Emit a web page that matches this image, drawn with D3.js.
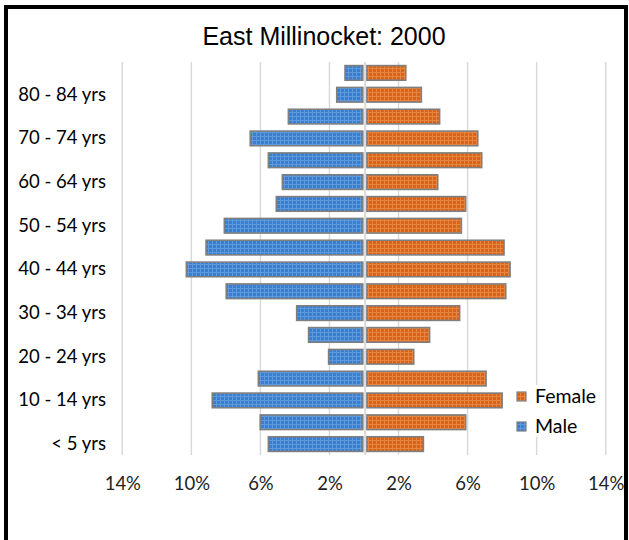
<!DOCTYPE html>
<html><head><meta charset="utf-8">
<script src="https://cdn.jsdelivr.net/npm/d3@7"></script>
<style>body{margin:0;background:#fff}svg{display:block}</style>
</head><body><div id="chart"></div>
<script>
const ageGroups = ["< 5 yrs","5 - 9 yrs","10 - 14 yrs","15 - 19 yrs","20 - 24 yrs","25 - 29 yrs","30 - 34 yrs","35 - 39 yrs","40 - 44 yrs","45 - 49 yrs","50 - 54 yrs","55 - 59 yrs","60 - 64 yrs","65 - 69 yrs","70 - 74 yrs","75 - 79 yrs","80 - 84 yrs","85+ yrs"];
const maleValues   = [5.54, 6.01, 8.79, 6.12, 2.05, 3.21, 3.90, 7.98, 10.29, 9.15, 8.09, 5.08, 4.73, 5.54, 6.59, 4.38, 1.58, 1.10];
const femaleValues = [3.44, 5.89, 8.00, 7.07, 2.88, 3.80, 5.54, 8.21, 8.46, 8.11, 5.64, 5.89, 4.27, 6.82, 6.59, 4.38, 3.32, 2.42];
const tickValues = [-14, -10, -6, -2, 2, 6, 10, 14];
const tickLabels = ["14%","10%","6%","2%","2%","6%","10%","14%"];
const labelGroups = ["< 5 yrs","10 - 14 yrs","20 - 24 yrs","30 - 34 yrs","40 - 44 yrs","50 - 54 yrs","60 - 64 yrs","70 - 74 yrs","80 - 84 yrs"];
const seriesNames = ["Female","Male"];
const title = "East Millinocket: 2000";

const W = 629, H = 540;
const svg = d3.select("#chart").append("svg").attr("width", W).attr("height", H);

// patterns
const defs = svg.append("defs");
function makePattern(id, base, light) {
  const p = defs.append("pattern").attr("id", id).attr("patternUnits", "userSpaceOnUse")
    .attr("width", 4).attr("height", 4);
  p.append("rect").attr("width", 4).attr("height", 4).attr("fill", base);
  p.append("rect").attr("x", 0).attr("y", 0).attr("width", 4).attr("height", 1).attr("fill", light);
  p.append("rect").attr("x", 0).attr("y", 0).attr("width", 1).attr("height", 4).attr("fill", light);
}
makePattern("pMale", "#3a7fcf", "#5e99dc");
makePattern("pFemale", "#d9631b", "#e6853f");

// frame
svg.append("rect").attr("x", 6).attr("y", 7).attr("width", 620).attr("height", 560)
  .attr("fill", "none").attr("stroke", "#000").attr("stroke-width", 4);

const x = d3.scaleLinear().domain([-14, 14]).range([122.3, 605.7]);
const y = d3.scaleBand().domain(ageGroups.slice().reverse()).range([62, 455]).paddingInner(0.33).paddingOuter(0.165);

// gridlines
svg.append("g").selectAll("line").data(tickValues).join("line")
  .attr("x1", d => x(d)).attr("x2", d => x(d)).attr("y1", 62).attr("y2", 455)
  .attr("stroke", "#d9d9d9").attr("stroke-width", 1.5);

// bars
const rows = ageGroups.map((g, i) => ({g, m: maleValues[i], f: femaleValues[i]}));
svg.append("g").selectAll("rect").data(rows).join("rect")
  .attr("x", d => x(-d.m)).attr("y", d => y(d.g))
  .attr("width", d => x(0) - 1.2 - x(-d.m)).attr("height", y.bandwidth())
  .attr("fill", "url(#pMale)").attr("stroke", "#7f7f7f").attr("stroke-width", 1.6);
svg.append("g").selectAll("rect").data(rows).join("rect")
  .attr("x", d => x(0) + 2.6).attr("y", d => y(d.g))
  .attr("width", d => x(d.f) - x(0) - 2.6).attr("height", y.bandwidth())
  .attr("fill", "url(#pFemale)").attr("stroke", "#7f7f7f").attr("stroke-width", 1.6);

// center axis line
svg.append("line").attr("x1", x(0) + 1.2).attr("x2", x(0) + 1.2).attr("y1", 62).attr("y2", 455)
  .attr("stroke", "#d9d9d9").attr("stroke-width", 2);

// y axis labels
const yAxis = d3.axisLeft(y).tickValues(labelGroups).tickSize(0).tickPadding(0);
const gy = svg.append("g").attr("transform", "translate(106,0)").call(yAxis);
gy.select(".domain").remove();
gy.selectAll("text").attr("font-family", "Lato, 'Open Sans', sans-serif").attr("font-size", 18.5).attr("fill", "#000");

// x axis labels
const xAxis = d3.axisBottom(x).tickValues(tickValues).tickSize(0).tickPadding(0)
  .tickFormat((d, i) => tickLabels[i]);
const gx = svg.append("g").attr("transform", "translate(0,477)").call(xAxis);
gx.select(".domain").remove();
gx.selectAll("text").attr("font-family", "Lato, 'Open Sans', sans-serif").attr("font-size", 18.5).attr("fill", "#222");

// title
svg.append("text").attr("x", 324).attr("y", 45).attr("text-anchor", "middle")
  .attr("font-family", "'Liberation Sans', Arial, sans-serif").attr("font-size", 25).attr("fill", "#000")
  .text(title);

// legend
const lg = svg.append("g");
lg.append("rect").attr("x", 513).attr("y", 385).attr("width", 88).attr("height", 52).attr("fill", "#fff");
const fills = {Female: "url(#pFemale)", Male: "url(#pMale)"};
seriesNames.forEach((s, i) => {
  const yy = 392 + i * 30;
  lg.append("rect").attr("x", 517).attr("y", yy).attr("width", 9).attr("height", 9)
    .attr("fill", fills[s]).attr("stroke", "#7f7f7f").attr("stroke-width", 1.2);
  lg.append("text").attr("x", 535).attr("y", yy + 11).attr("font-family", "Lato, 'Open Sans', sans-serif")
    .attr("font-size", 19.5).attr("fill", "#000").text(s);
});
</script></body></html>
